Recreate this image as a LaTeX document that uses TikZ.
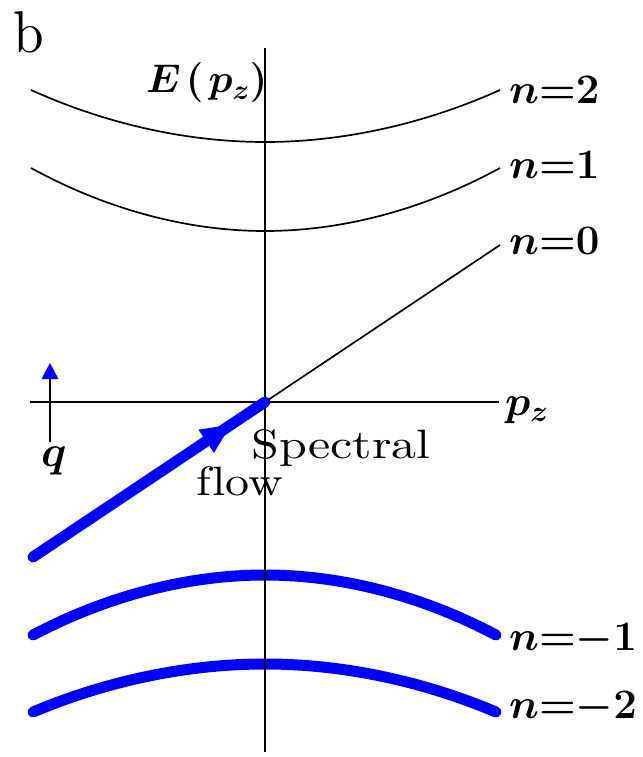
\RequirePackage{fix-cm}
\documentclass[tikz,border=0pt]{standalone}
\usetikzlibrary{calc}
\newcommand{\mfnt}{\fontsize{42}{48}\selectfont\boldmath}
\newcommand{\efnt}{\fontsize{40}{46}\selectfont\boldmath}
\tikzset{
  curve/.style={line width=1.7pt, black},
  axisline/.style={line width=2.6pt, black},
  band/.style={draw=blue, line width=11pt, line cap=round},
  lbl/.style={inner sep=0pt, anchor=base west},
  txt/.style={lbl, font=\fontsize{10}{12}\selectfont},
}
\begin{document}
\begin{tikzpicture}[x=1pt,y=-1pt]
\useasboundingbox (0,0) rectangle (642,757);
% coordinates
\coordinate (vt) at (265,48);
\coordinate (vb) at (265,752);
\coordinate (hl) at (30,402);
\coordinate (hr) at (499,402);
\coordinate (o) at (265,402);
\coordinate (a2l) at (31,90);
\coordinate (a2v) at (265,142);
\coordinate (a2r) at (500,90);
\coordinate (a1l) at (31,168);
\coordinate (a1v) at (265,231);
\coordinate (a1r) at (500,168);
\coordinate (a0r) at (500,245);
\coordinate (s) at (33,557);
\coordinate (m1l) at (33,635);
\coordinate (m1v) at (265,575);
\coordinate (m1r) at (496,635);
\coordinate (m2l) at (33,712);
\coordinate (m2v) at (265,664);
\coordinate (m2r) at (496,712);
% lower blue bands
\draw[band] (m1l) parabola bend (m1v) (m1r);
\draw[band] (m2l) parabola bend (m2v) (m2r);
% axes
\draw[axisline] (vt) -- (vb);
\draw[axisline] (hl) -- (hr);
% upper curves
\draw[curve] (a2l) parabola bend (a2v) (a2r);
\draw[curve] (a1l) parabola bend (a1v) (a1r);
\draw[curve] (o) -- (a0r);
% spectral flow line with arrowhead
\draw[band] (s) -- (o);
\coordinate (tip) at ($(s)!0.853!(o)$);
\coordinate (base) at ($(s)!0.7465!(o)$);
\fill[blue] (tip) -- ($(base)!14pt!90:(o)$) -- ($(base)!14pt!-90:(o)$) -- cycle;
% q arrow
\coordinate (qb) at (50,442);
\coordinate (qt) at (50,379);
\coordinate (qtip) at (50,363);
\draw[line width=2.2pt] (qb) -- (qt);
\fill[blue] (qtip) -- ($(qt)+(8.5,0)$) -- ($(qt)+(-8.5,0)$) -- cycle;
% labels
\node[txt] (b) at (13,53) {\scalebox{5.5}[5.9]{b}};
\node[lbl, font=\efnt] (E) at (146,93) {$E\mkern2mu(\mkern2mu p_z)$};
\node[lbl, font=\mfnt] (l2) at (509,104) {$n{=}2$};
\node[lbl, font=\mfnt] (l1) at (509,178) {$n{=}1$};
\node[lbl, font=\mfnt] (l0) at (509,254) {$n{=}0$};
\node[lbl, font=\mfnt] (lm1) at (509,650) {$n{=}{-}1$};
\node[lbl, font=\mfnt] (lm2) at (509,718) {$n{=}{-}2$};
\node[lbl, font=\mfnt] (pz) at (505,415) {$p_z$};
\node[lbl, font=\fontsize{44}{50}\selectfont\boldmath] (q) at (41,466) {$q$};
\node[txt] (sp) at (251,458) {\scalebox{5.0}[4.1]{Spectral}};
\node[txt] (fl) at (196,495) {\scalebox{4.8}[4.1]{f\kern0.3pt low}};
\end{tikzpicture}
\end{document}
